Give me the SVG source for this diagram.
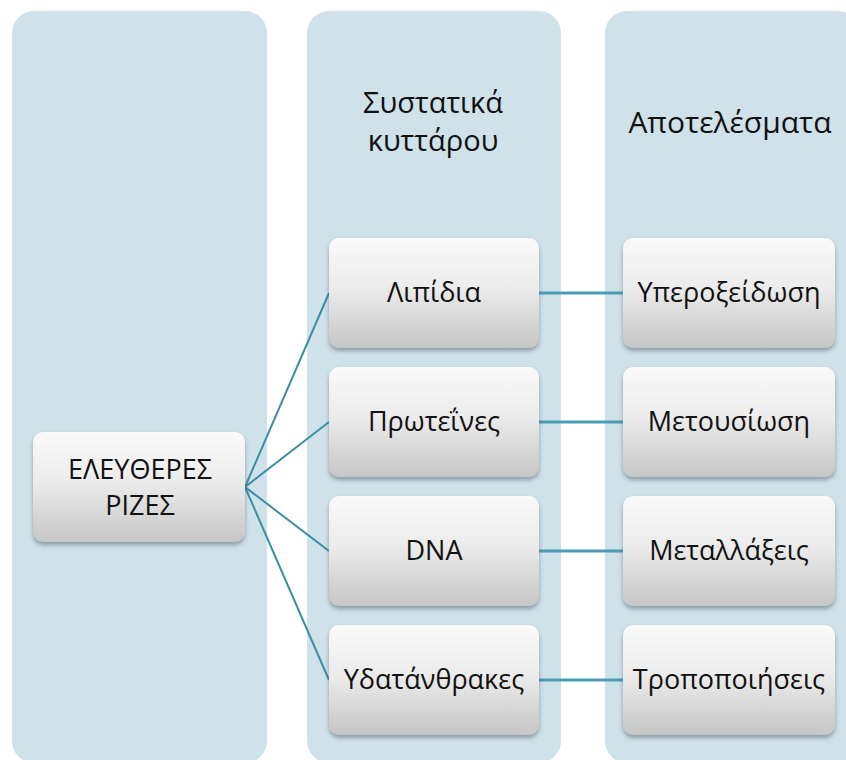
<svg xmlns="http://www.w3.org/2000/svg" width="846" height="760" viewBox="0 0 846 760">
<style>
.col{fill:#CFE1E9}
.node{fill:url(#g);filter:url(#sh)}
text{font-family:"Open Sans","Noto Sans","DejaVu Sans",sans-serif;font-size:27px;fill:#111;text-anchor:middle}
.hdr{font-size:29px}
.c{stroke:#3A8FA5;stroke-width:2;fill:none}
.h{stroke:#4A9CB3;stroke-width:3;fill:none}
</style>
<defs>
<linearGradient id="g" x1="0" y1="0" x2="0" y2="1">
<stop offset="0" stop-color="#FAFAFA"/>
<stop offset="0.45" stop-color="#ECECEC"/>
<stop offset="1" stop-color="#C6C6C6"/>
</linearGradient>
<filter id="sh" x="-10%" y="-10%" width="120%" height="130%">
<feGaussianBlur in="SourceAlpha" stdDeviation="2"/>
<feOffset dy="3" result="b"/>
<feFlood flood-color="#3a4a55" flood-opacity="0.45"/>
<feComposite in2="b" operator="in"/>
<feMerge><feMergeNode/><feMergeNode in="SourceGraphic"/></feMerge>
</filter>
</defs>
<g id="columns">
<rect class="col" x="12" y="11" width="255" height="752" rx="22"/>
<rect class="col" x="307" y="11" width="254" height="752" rx="22"/>
<rect class="col" x="605" y="11" width="255" height="752" rx="22"/>
</g>
<g id="headers">
<text class="hdr" x="433" y="113">Συστατικά</text>
<text class="hdr" x="433" y="151">κυττάρου</text>
<text class="hdr" x="730" y="133" style="font-size:30px">Αποτελέσματα</text>
</g>
<g id="connectors">
<line class="c" x1="245" y1="487" x2="329" y2="293"/>
<line class="c" x1="245" y1="487" x2="329" y2="422"/>
<line class="c" x1="245" y1="487" x2="329" y2="551"/>
<line class="c" x1="245" y1="487" x2="329" y2="680"/>
<line class="h" x1="539" y1="293" x2="623" y2="293"/>
<line class="h" x1="539" y1="422" x2="623" y2="422"/>
<line class="h" x1="539" y1="551" x2="623" y2="551"/>
<line class="h" x1="539" y1="680" x2="623" y2="680"/>
</g>
<g id="n-root"><rect class="node" x="33" y="432" width="212" height="110" rx="10"/><text x="140" y="479">ΕΛΕΥΘΕΡΕΣ</text><text x="140" y="515">ΡΙΖΕΣ</text></g>
<g id="n-lipidia"><rect class="node" x="329" y="238" width="210" height="110" rx="10"/><text x="434" y="302">Λιπίδια</text></g>
<g id="n-proteines"><rect class="node" x="329" y="367" width="210" height="110" rx="10"/><text x="434" y="431">Πρωτεΐνες</text></g>
<g id="n-dna"><rect class="node" x="329" y="496" width="210" height="110" rx="10"/><text x="434" y="560">DNA</text></g>
<g id="n-ydatanthrakes"><rect class="node" x="329" y="625" width="210" height="110" rx="10"/><text x="434" y="689">Υδατάνθρακες</text></g>
<g id="n-yperoxeidosi"><rect class="node" x="623" y="238" width="212" height="110" rx="10"/><text x="729" y="302">Υπεροξείδωση</text></g>
<g id="n-metousiosi"><rect class="node" x="623" y="367" width="212" height="110" rx="10"/><text x="729" y="431">Μετουσίωση</text></g>
<g id="n-metallaxeis"><rect class="node" x="623" y="496" width="212" height="110" rx="10"/><text x="729" y="560">Μεταλλάξεις</text></g>
<g id="n-tropopoiiseis"><rect class="node" x="623" y="625" width="212" height="110" rx="10"/><text x="729" y="689">Τροποποιήσεις</text></g>
</svg>
